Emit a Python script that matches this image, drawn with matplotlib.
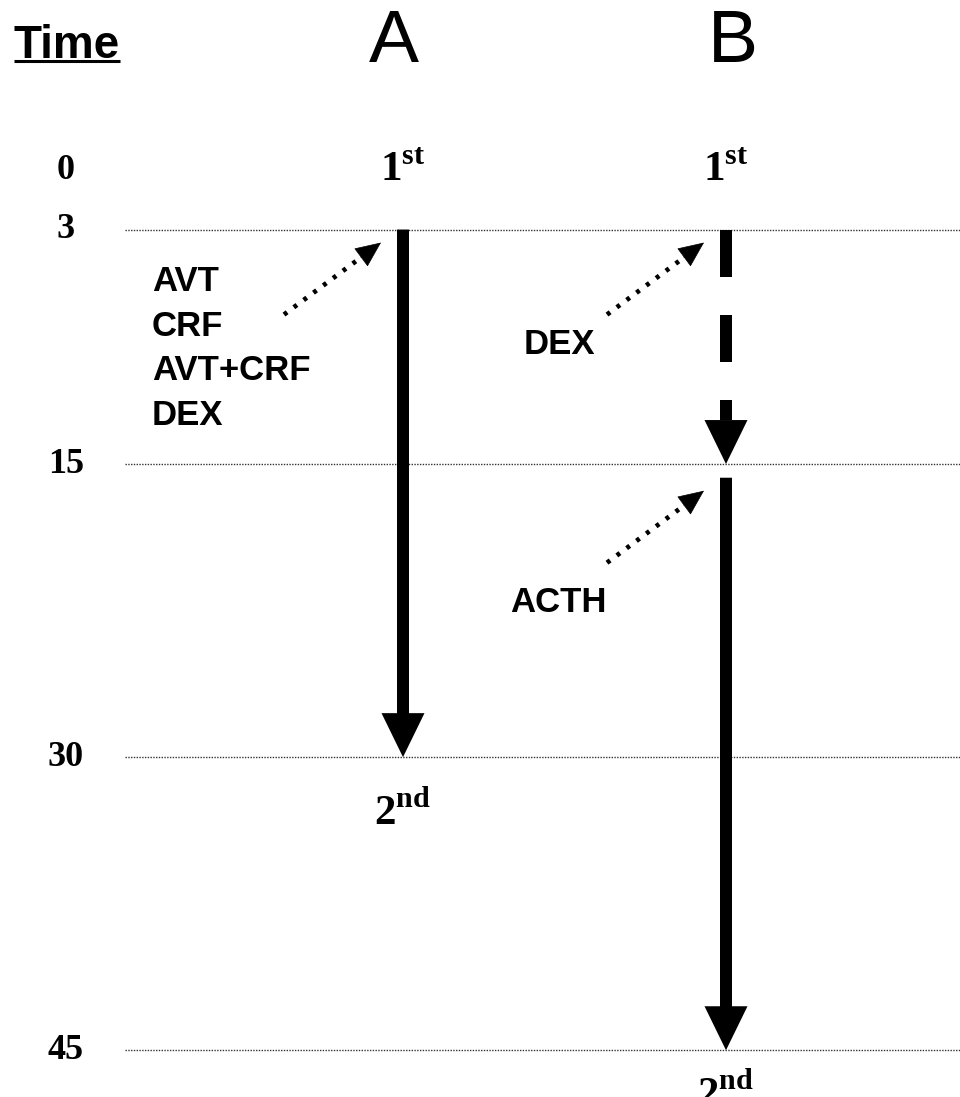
import matplotlib
matplotlib.use("Agg")
import matplotlib.pyplot as plt

plt.rcParams['lines.scale_dashes'] = False
plt.rcParams['mathtext.fontset'] = 'custom'
plt.rcParams['mathtext.bf'] = 'Liberation Serif:bold'
plt.rcParams['mathtext.rm'] = 'Liberation Serif:bold'

# ---------------- data ----------------
time_ticks = [0, 3, 15, 30, 45]
columns = ['A', 'B']
seg_start = [[3], [3, 15]]          # minutes
seg_end = [[30], [15, 45]]
seg_dashed = [[False], [True, False]]
treatments = [[['AVT', 'CRF', 'AVT+CRF', 'DEX']], [['DEX'], ['ACTH']]]
first_label = ('1', 'st')
second_label = ('2', 'nd')
time_title = 'Time'

# ---------------- layout ----------------
W, H, DPI = 960, 1097, 100
col_px = [403, 726]
XU = col_px[1] - col_px[0]            # pixels per column unit
YU = 19.54                            # pixels per minute
t_top = -170.95 / YU
t_bot = (H - 170.95) / YU
x_left = -col_px[0] / XU
x_right = 1 + (W - col_px[1]) / XU

line_x0 = (125 - col_px[0]) / XU
tick_x = (66 - col_px[0]) / XU
header_dx = [-9, 7]
second_dy = [55, 44]                  # pixels below the end line
gap_after_event = 0.7                 # minutes between arrows in B
shaft_w, head_w, head_l = 12, 43, 44  # pixels

# pointer geometry (pixels)
ptr_tip_dx, ptr_tip_dy = -22, 13
ptr_vec = (-97, 72)
ptr_head_len = 25

# label offsets relative to pointer start (pixels, x right, y down)
label_dx = [[-132], [-83, -97]]
label_dy = [[-33], [30, 40]]
line_step = 44.5

fig = plt.figure(figsize=(W / DPI, H / DPI), dpi=DPI)
ax = fig.add_axes([0, 0, 1, 1])
ax.set_axis_off()
ax.set_xlim(x_left, x_right)
ax.set_ylim(t_bot, t_top)
ax.set_autoscale_on(False)

serif = 'Liberation Serif'
sans = 'Liberation Sans'

# horizontal dotted time lines
for t in time_ticks[1:]:
    ax.plot([line_x0, x_right], [t, t], color='#333333', lw=1.0,
            linestyle=(0, (1.0, 1.0)), zorder=1)

# time tick labels
for t in time_ticks:
    ax.text(tick_x, t, str(t), ha='center', va='center', fontsize=26,
            family=serif, fontweight='bold', zorder=4)

# header
ttl = ax.text(tick_x + 1 / XU, (58 - 170.95) / YU, time_title, ha='center',
              va='baseline', fontsize=33, family=sans, fontweight='bold')
for ci, name in enumerate(columns):
    ax.text(ci + header_dx[ci] / XU, (62 - 170.95) / YU, name, ha='center',
            va='baseline', fontsize=54, family=sans)

plen = (ptr_vec[0] ** 2 + ptr_vec[1] ** 2) ** 0.5
ux, uy = ptr_vec[0] / plen, ptr_vec[1] / plen

# arrows
for ci in range(len(columns)):
    for j, (t0, t1) in enumerate(zip(seg_start[ci], seg_end[ci])):
        s = t0 + (gap_after_event if j > 0 else 0)
        hl = head_l / YU
        if seg_dashed[ci][j]:
            ax.plot([ci, ci], [s, t1 - hl], color='black', lw=shaft_w * 0.72,
                    dashes=(47 * 0.72, 38 * 0.72), dash_capstyle='butt',
                    solid_capstyle='butt', zorder=3)
            ax.arrow(ci, t1 - hl, 0, hl, width=shaft_w / XU,
                     head_width=head_w / XU, head_length=hl,
                     length_includes_head=True, fc='black', ec='none', zorder=3)
        else:
            ax.arrow(ci, s, 0, t1 - s, width=shaft_w / XU,
                     head_width=head_w / XU, head_length=hl,
                     length_includes_head=True, fc='black', ec='none', zorder=3)

        # pointer arrow: dotted shaft + solid head
        tip = (ci + ptr_tip_dx / XU, s + ptr_tip_dy / YU)
        base = (tip[0] + ux * ptr_head_len / XU, tip[1] + uy * ptr_head_len / YU)
        start = (tip[0] + ptr_vec[0] / XU, tip[1] + ptr_vec[1] / YU)
        ax.annotate('', xy=base, xytext=start,
                    arrowprops=dict(arrowstyle='-', lw=3.4, color='black',
                                    linestyle=(0, (2.8, 6.0)), capstyle='butt',
                                    shrinkA=0, shrinkB=0), zorder=3)
        ax.annotate('', xy=tip, xytext=base,
                    arrowprops=dict(arrowstyle='-|>,head_length=0.9,head_width=0.4',
                                    mutation_scale=19, lw=0.5, color='black',
                                    shrinkA=0, shrinkB=0), zorder=3)
        for k, lab in enumerate(treatments[ci][j]):
            ax.text(start[0] + label_dx[ci][j] / XU,
                    start[1] + (label_dy[ci][j] + k * line_step) / YU,
                    lab, ha='left', va='center', fontsize=25, family=sans,
                    fontweight='bold', zorder=4)

    # sample labels
    ax.text(ci, time_ticks[0], first_label[0] + r'$^{\mathbf{' + first_label[1] + '}}$',
            ha='center', va='center', fontsize=31, family=serif, fontweight='bold')
    ax.text(ci, seg_end[ci][-1] + second_dy[ci] / YU,
            second_label[0] + r'$^{\mathbf{' + second_label[1] + '}}$',
            ha='center', va='center', fontsize=31, family=serif, fontweight='bold')

# underline of the "Time" title, derived from the text extent
fig.canvas.draw()
bb = ttl.get_window_extent(fig.canvas.get_renderer())
base_disp = ax.transData.transform((0, (58 - 170.95) / YU))[1]
inv = ax.transData.inverted()
p0 = inv.transform((bb.x0, base_disp - 3.5))
p1 = inv.transform((bb.x1, base_disp - 3.5))
ax.plot([p0[0], p1[0]], [p0[1], p1[1]], color='black', lw=2.2,
        solid_capstyle='butt')

fig.savefig('out.png', dpi=DPI)
